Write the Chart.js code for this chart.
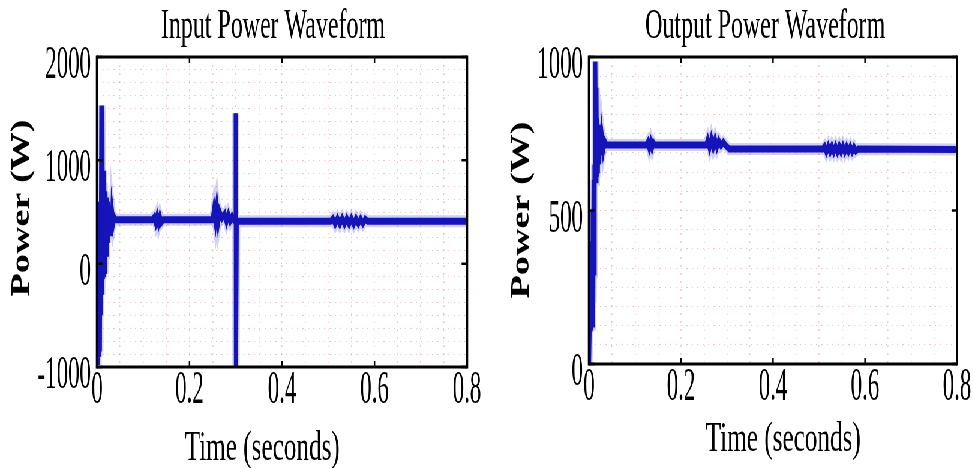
<!DOCTYPE html>
<html>
<head>
<meta charset="utf-8">
<script src="https://cdn.jsdelivr.net/npm/chart.js@4"></script>
<style>
  html, body { margin: 0; padding: 0; background: #fff; overflow: hidden; }
  /* the reference figure is horizontally squeezed, so draw wide and squeeze */
  #wrap { position: absolute; left: 0; top: 0; width: 1622px; height: 468px;
          transform: scaleX(0.6); transform-origin: 0 0; display: flex; }
  canvas { display: block; }
</style>
</head>
<body>
<div id="wrap">
  <canvas id="inputChart" width="811" height="468"></canvas>
  <canvas id="outputChart" width="811" height="468"></canvas>
</div>
<script>
// ---- data ----
const xTicks = [0, 0.2, 0.4, 0.6, 0.8];
const inYTicks = [-1000, 0, 1000, 2000];
const outYTicks = [0, 500, 1000];

const inTime = [
  0, 0.001, 0.002, 0.003, 0.004, 0.005, 0.006, 0.007, 0.008, 0.0095,
  0.0105, 0.0115, 0.0125, 0.0135, 0.0145, 0.0155, 0.017, 0.018, 0.020, 0.021,
  0.023, 0.024, 0.026, 0.027, 0.029, 0.030, 0.032, 0.033, 0.035, 0.037,
  0.040, 0.120, 0.124, 0.127, 0.130, 0.133, 0.136, 0.139, 0.143, 0.250,
  0.253, 0.256, 0.259, 0.262, 0.265, 0.270, 0.276, 0.280, 0.284, 0.288,
  0.292, 0.296, 0.2995, 0.300, 0.3005, 0.302, 0.505, 0.510, 0.515, 0.520,
  0.525, 0.530, 0.535, 0.540, 0.545, 0.550, 0.555, 0.560, 0.565, 0.570,
  0.575, 0.580, 0.585, 0.800
];
const inPower = [
  -950, 550, -980, 600, -900, 580, -850, 600, -500, 1530,
  -300, 1480, -150, 900, -130, 780, -100, 700, 100, 640,
  200, 600, 280, 560, 300, 520, 350, 480, 400, 450,
  425, 425, 450, 400, 455, 395, 450, 400, 425, 425,
  520, 420, 540, 410, 500, 440, 480, 410, 470, 415,
  455, 420, 420, 1455, -1000, 410, 410, 435, 385, 435,
  385, 435, 385, 435, 385, 435, 385, 435, 388, 432,
  390, 430, 410, 410
];

const outTime = [
  0, 0.001, 0.002, 0.003, 0.004, 0.005, 0.006, 0.007, 0.008, 0.009,
  0.010, 0.011, 0.012, 0.013, 0.0135, 0.015, 0.016, 0.017, 0.018, 0.019,
  0.020, 0.022, 0.024, 0.026, 0.028, 0.031, 0.034, 0.038, 0.125, 0.128,
  0.131, 0.134, 0.137, 0.140, 0.143, 0.255, 0.258, 0.262, 0.266, 0.270,
  0.274, 0.278, 0.282, 0.287, 0.292, 0.297, 0.305, 0.508, 0.512, 0.516,
  0.520, 0.524, 0.528, 0.532, 0.536, 0.540, 0.544, 0.548, 0.552, 0.556,
  0.560, 0.564, 0.568, 0.572, 0.576, 0.580, 0.585, 0.800
];
const outPower = [
  0, 100, 310, 105, 320, 110, 400, 130, 500, 200,
  600, 300, 650, 590, 985, 600, 900, 610, 800, 620,
  780, 650, 760, 680, 740, 700, 725, 713, 713, 722,
  705, 722, 705, 720, 713, 713, 728, 706, 732, 708,
  730, 708, 726, 712, 722, 712, 700, 700, 708, 692,
  708, 692, 708, 692, 708, 692, 708, 692, 708, 692,
  707, 693, 707, 693, 706, 694, 700, 699
];

const SERIF = '"Liberation Serif", "Times New Roman", serif';

function isMajor(v, list) {
  return list.some(t => Math.abs(t - v) < 1e-6);
}

function squeezeText(ctx, text, x, y, sx, align) {
  ctx.save();
  ctx.translate(x, y);
  ctx.scale(sx, 1);
  ctx.textAlign = align;
  ctx.fillText(text, 0, 0);
  ctx.restore();
}

// frame, inward ticks, tick labels and titles
const figurePlugin = {
  id: 'figure',
  afterDraw(chart, args, o) {
    const { ctx, chartArea: a } = chart;
    const xs = chart.scales.x, ys = chart.scales.y;
    ctx.save();

    // frame
    ctx.strokeStyle = '#000';
    ctx.lineWidth = 3;
    ctx.beginPath();
    ctx.moveTo(a.left, a.top); ctx.lineTo(a.right, a.top);
    ctx.moveTo(a.left, a.bottom); ctx.lineTo(a.right, a.bottom);
    ctx.stroke();
    ctx.lineWidth = 4;
    ctx.beginPath();
    ctx.moveTo(a.left, a.top - 1.5); ctx.lineTo(a.left, a.bottom + 1.5);
    ctx.moveTo(a.right, a.top - 1.5); ctx.lineTo(a.right, a.bottom + 1.5);
    ctx.stroke();

    // small inward tick marks at the labelled values
    ctx.lineWidth = 2.5;
    ctx.beginPath();
    xTicks.forEach(v => {
      const px = xs.getPixelForValue(v);
      ctx.moveTo(px, a.bottom); ctx.lineTo(px, a.bottom - 6);
      ctx.moveTo(px, a.top); ctx.lineTo(px, a.top + 6);
    });
    o.yTicks.forEach(v => {
      const py = ys.getPixelForValue(v);
      ctx.moveTo(a.left, py); ctx.lineTo(a.left + 9, py);
      ctx.moveTo(a.right, py); ctx.lineTo(a.right - 9, py);
    });
    ctx.stroke();

    ctx.fillStyle = '#000';
    ctx.textBaseline = 'alphabetic';

    // tick labels
    ctx.font = '46px ' + SERIF;
    xTicks.forEach(v => {
      squeezeText(ctx, String(v), xs.getPixelForValue(v), a.bottom + 36, 0.83, 'center');
    });
    o.yTicks.forEach(v => {
      squeezeText(ctx, String(v), a.left - 10, ys.getPixelForValue(v) + 21, 0.83, 'right');
    });

    // titles
    const cx = (a.left + a.right) / 2;
    ctx.font = '42px ' + SERIF;
    squeezeText(ctx, o.title, cx + o.titleDx, o.titleY, 0.95, 'center');
    ctx.font = '42px ' + SERIF;
    squeezeText(ctx, o.xLabel, cx + o.xLabelDx, o.xLabelY, 1, 'center');

    ctx.font = 'bold 44px ' + SERIF;
    ctx.translate(o.yLabelX, o.yLabelY);
    ctx.rotate(-Math.PI / 2);
    const w = ctx.measureText(o.yLabel).width;
    ctx.scale(o.yLabelLen / w, 1);
    ctx.textAlign = 'center';
    ctx.textBaseline = 'middle';
    ctx.fillText(o.yLabel, 0, 0);
    ctx.restore();
  }
};

function makeChart(id, time, power, yMin, yMax, yStep, yTicks, lay) {
  const pts = time.map((t, i) => ({ x: t, y: power[i] }));
  return new Chart(document.getElementById(id), {
    type: 'line',
    data: {
      datasets: [
        { data: pts, borderColor: '#1414b8', borderWidth: 7, pointRadius: 0,
          tension: 0, order: 0 },
        { data: pts, borderColor: 'rgba(70,70,225,0.25)', borderWidth: 12, pointRadius: 0,
          tension: 0, order: 1 }
      ]
    },
    options: {
      responsive: false,
      animation: false,
      layout: { padding: { top: 57, right: lay.padRight, left: 0, bottom: 0 } },
      plugins: {
        legend: { display: false },
        tooltip: { enabled: false },
        figure: Object.assign({ yTicks }, lay.text)
      },
      scales: {
        x: {
          type: 'linear', min: 0, max: 0.8,
          afterFit: s => { s.height = lay.xHeight; },
          border: { display: false, dash: [2, 6] },
          grid: { color: 'rgba(225,120,120,0.4)', lineWidth: 1.5, drawTicks: false },
          ticks: { stepSize: 0.05, autoSkip: false, display: false }
        },
        y: {
          min: yMin, max: yMax,
          afterFit: s => { s.width = lay.yWidth; },
          border: { display: false, dash: [2, 7] },
          grid: { color: 'rgba(225,120,120,0.45)', lineWidth: 1, drawTicks: false },
          ticks: { stepSize: yStep, autoSkip: false, display: false }
        }
      }
    },
    plugins: [figurePlugin]
  });
}

makeChart('inputChart', inTime, inPower, -1000, 2000, 125, inYTicks, {
  padRight: 32.7, xHeight: 101, yWidth: 161.7,
  text: { title: 'Input Power Waveform', titleDx: -15, titleY: 38,
          xLabel: 'Time (seconds)', xLabelDx: -33, xLabelY: 460,
          yLabel: 'Power (W)', yLabelX: 37, yLabelY: 208, yLabelLen: 177 }
});

makeChart('outputChart', outTime, outPower, 0, 1000, 62.5, outYTicks, {
  padRight: 27, xHeight: 104, yWidth: 170.7,
  text: { title: 'Output Power Waveform', titleDx: -13, titleY: 38,
          xLabel: 'Time (seconds)', xLabelDx: 17, xLabelY: 451,
          yLabel: 'Power (W)', yLabelX: 59, yLabelY: 210, yLabelLen: 177 }
});
</script>
</body>
</html>
